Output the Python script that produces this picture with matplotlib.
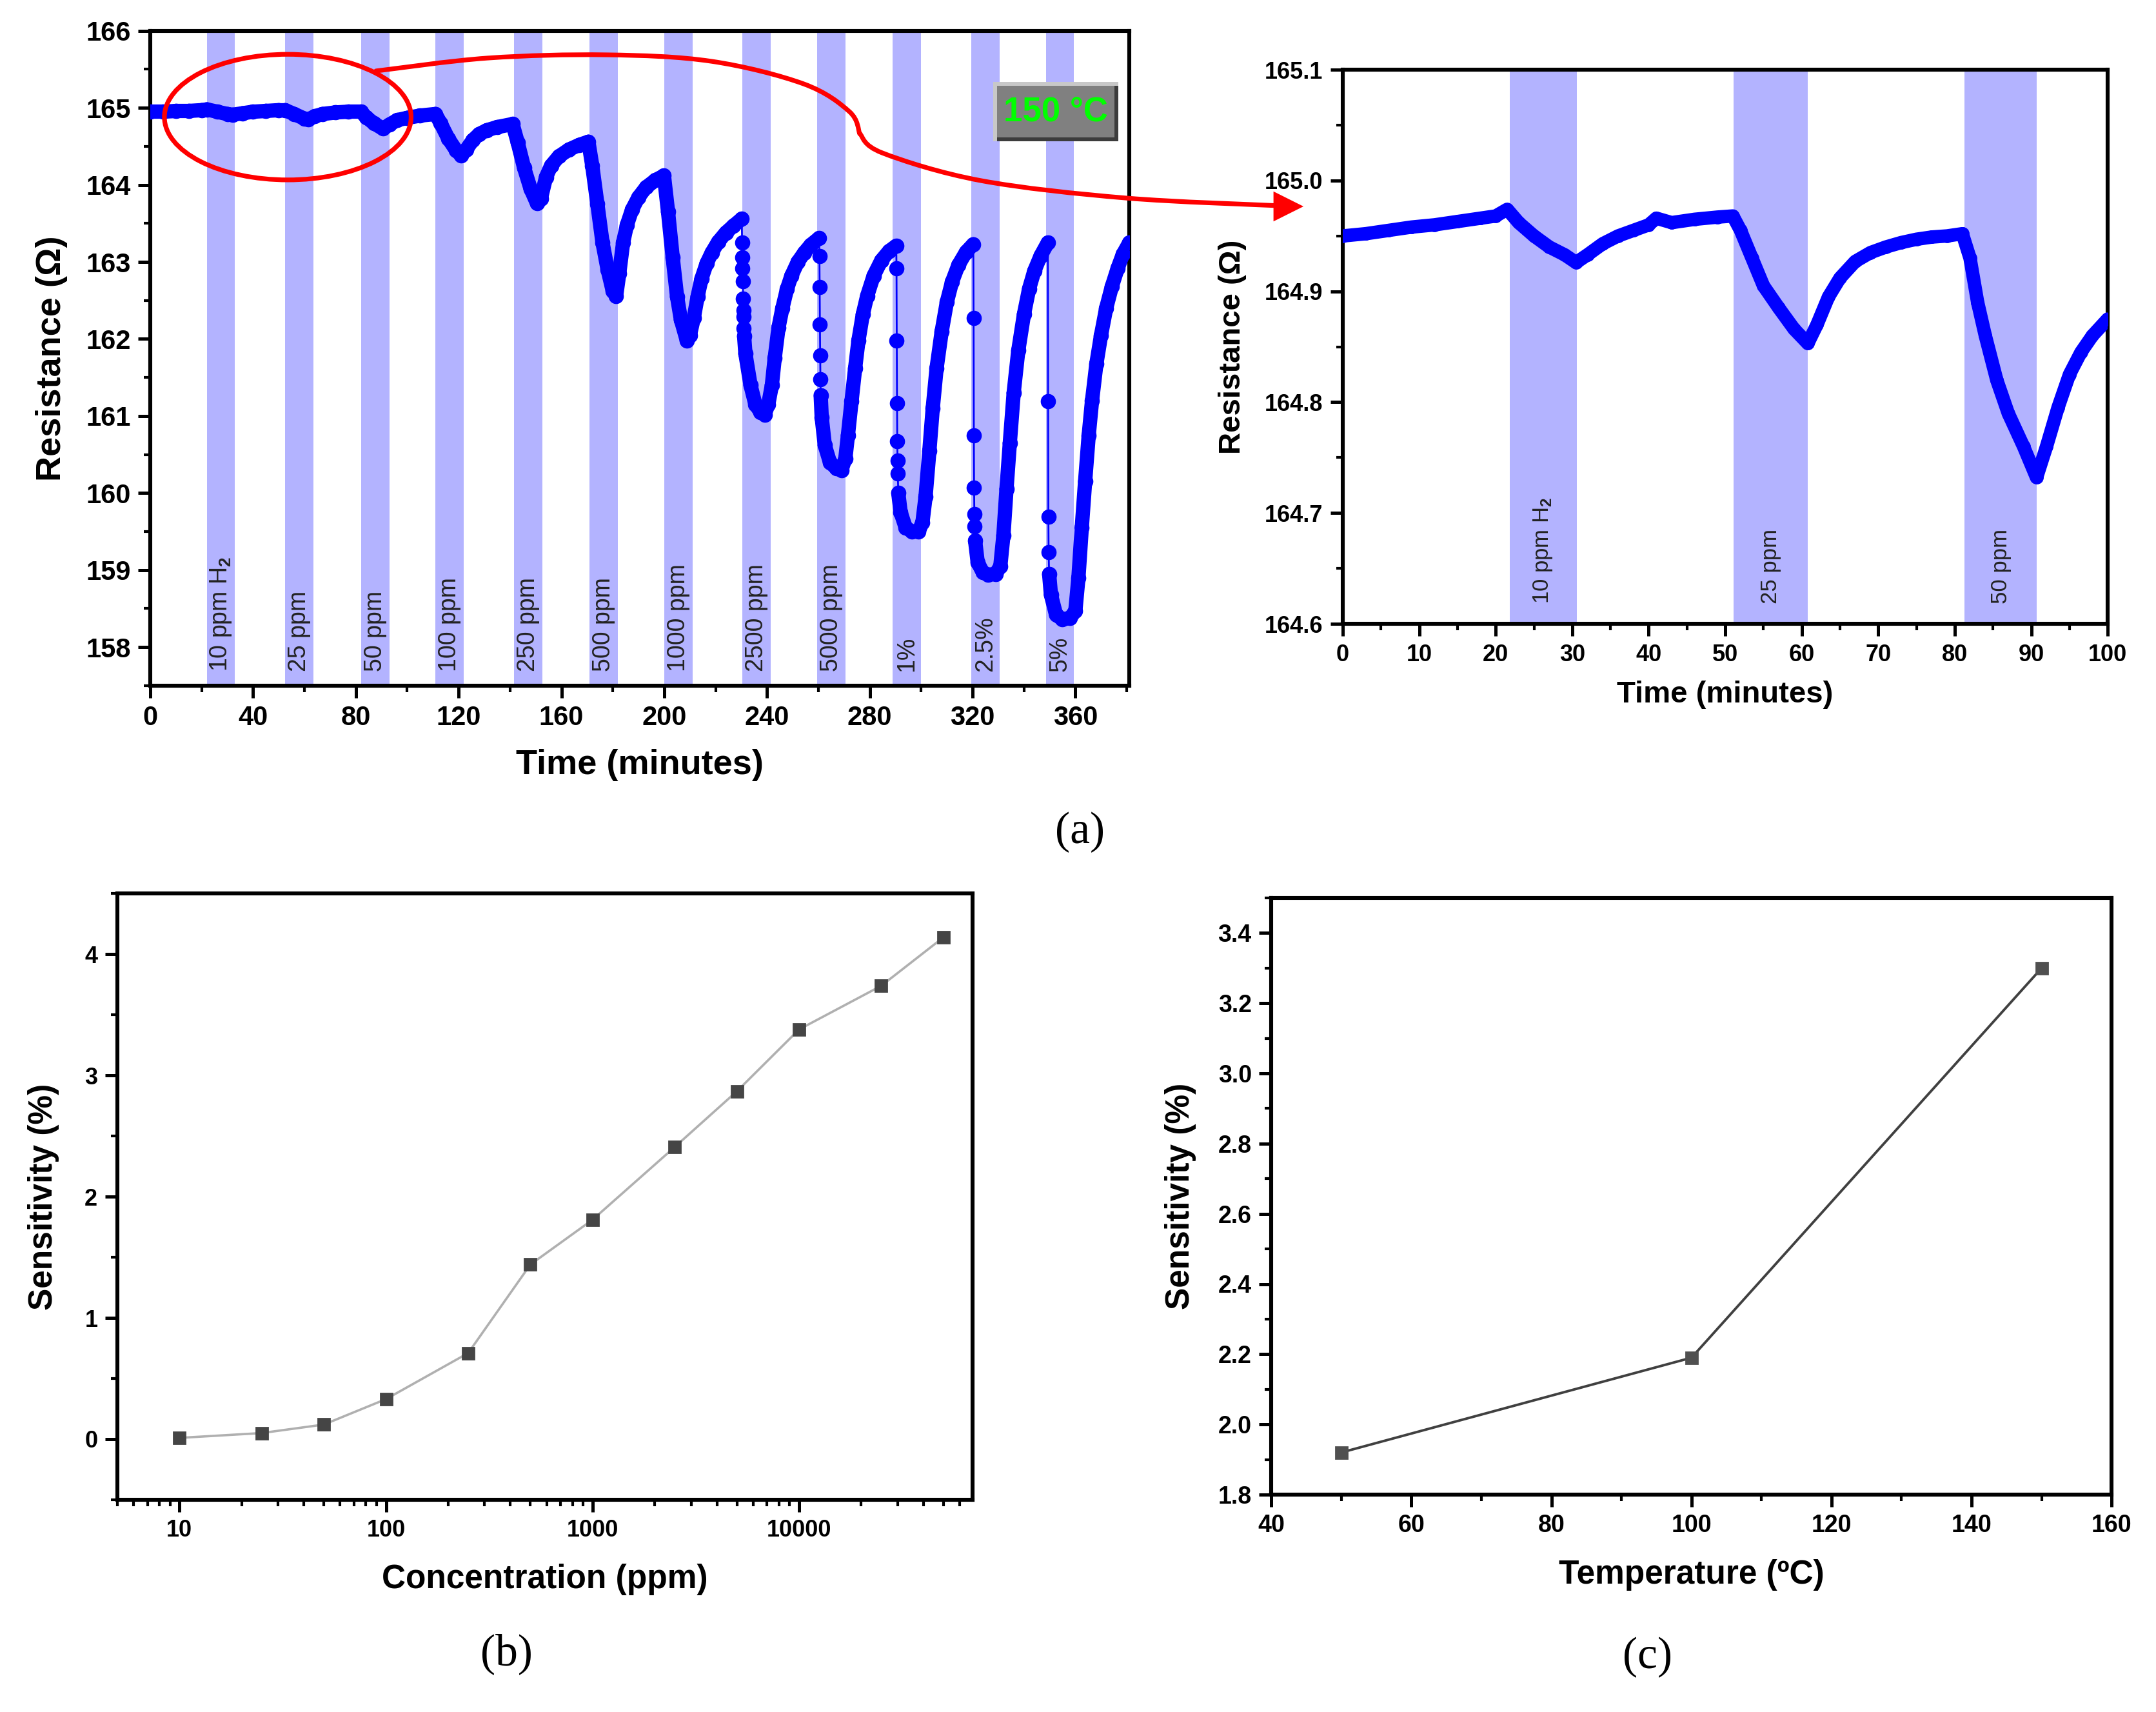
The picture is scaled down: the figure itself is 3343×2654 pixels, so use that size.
import numpy as np
import matplotlib
matplotlib.use('Agg')
import matplotlib.pyplot as plt
from matplotlib.collections import LineCollection
from matplotlib.patches import Ellipse, Rectangle, PathPatch, Polygon
from matplotlib.path import Path
from matplotlib.ticker import MultipleLocator, LogLocator, NullFormatter

plt.rcParams['font.family'] = ['Liberation Sans', 'DejaVu Sans']
plt.rcParams['font.weight'] = 'bold'
plt.rcParams['axes.labelweight'] = 'bold'
plt.rcParams['mathtext.fontset'] = 'custom'
plt.rcParams['mathtext.rm'] = 'Liberation Sans'
plt.rcParams['mathtext.it'] = 'Liberation Sans:italic'
plt.rcParams['mathtext.bf'] = 'Liberation Sans:bold'

# ---- (a) full response at 150 C ----
time_a = [0, 5, 10, 15, 20, 22, 26, 30, 32, 36, 40, 45, 50, 52.5, 56, 60, 61.5, 64, 67, 72,
          77, 82, 84, 87, 90.5, 93, 96, 100, 105, 111,
          113, 116, 119, 121, 123, 125.5, 128, 131, 135, 141,
          143, 145.5, 148, 150.5, 152, 154, 156, 159, 163, 167, 170.5,
          172, 174, 176, 178, 180, 181.3, 182.5, 184, 185.5, 187.5, 190, 193, 196.5, 199.9,
          201.5, 203.3, 205, 206.5, 208.8, 210, 211.5, 213, 214.5, 216.5, 218.5, 221, 224, 227, 230.2,
          230.3, 230.4, 230.5, 230.6, 230.7, 230.8, 230.9, 231.0, 231.1,
          231.6, 233.6, 235.5, 237.5, 239.1, 240.5, 241.9, 243.0, 244.5, 246.0, 247.8, 249.5, 252,
          254.5, 257, 260.3,
          260.4, 260.5, 260.6, 260.7, 260.8, 260.9,
          261.3, 262.5, 264.5, 267, 269, 270.5, 271.5, 272.9, 274.3, 275.6, 277.3, 279, 281.5,
          284.5, 287.5, 290.3,
          290.4, 290.5, 290.6, 290.7, 290.8, 290.9,
          291.1, 292.0, 294, 296.5, 299, 300.5, 301.7, 303.2, 304.5, 306, 308, 310, 312, 314.5,
          317.5, 320.3,
          320.4, 320.5, 320.6, 320.7, 320.8,
          321.0, 322.0, 324, 326, 329, 330.8, 332, 333.2, 334.5, 336, 337.8, 340, 342, 344,
          346.5, 349.3,
          349.4, 349.5, 349.6,
          349.8, 350.5, 352.5, 355, 358, 360, 361.2, 362.5, 363.8, 365.2, 366.5, 368.2, 370,
          372, 374.2, 376.5, 378.5, 381]
res_a = [164.95, 164.95, 164.96, 164.96, 164.97, 164.98, 164.95, 164.92, 164.91, 164.93, 164.95,
         164.96, 164.97, 164.97, 164.92, 164.86, 164.85, 164.89, 164.92, 164.94,
         164.95, 164.95, 164.88, 164.80, 164.73, 164.78, 164.84, 164.87, 164.90, 164.92,
         164.80, 164.60, 164.45, 164.38, 164.46, 164.58, 164.66, 164.71, 164.75, 164.79,
         164.55, 164.22, 163.95, 163.76, 163.82, 164.10, 164.25, 164.37, 164.46, 164.52, 164.56,
         164.25, 163.75, 163.25, 162.90, 162.62, 162.56, 162.85, 163.25, 163.48, 163.68, 163.84,
         163.97, 164.06, 164.12,
         163.65, 163.06, 162.55, 162.25, 161.98, 162.05, 162.27, 162.55, 162.78, 162.98, 163.12,
         163.26, 163.38, 163.47, 163.56,
         163.25, 163.06, 162.92, 162.75, 162.52, 162.37, 162.29, 162.14, 162.04,
         161.81, 161.40, 161.15, 161.05, 161.02, 161.15, 161.40, 161.75, 162.15, 162.40, 162.65,
         162.82, 163.00, 163.12, 163.22, 163.31,
         163.08, 162.67, 162.19, 161.79, 161.48, 161.27,
         160.98, 160.62, 160.40, 160.32, 160.30, 160.45, 160.75, 161.19, 161.62, 161.98, 162.32,
         162.56, 162.82, 163.02, 163.14, 163.21,
         162.92, 161.98, 161.17, 160.67, 160.42, 160.25,
         160.00, 159.75, 159.55, 159.50, 159.50, 159.62, 159.95, 160.55, 161.10, 161.62, 162.10,
         162.48, 162.74, 162.96, 163.13, 163.23,
         162.27, 160.75, 160.07, 159.73, 159.57,
         159.38, 159.10, 158.97, 158.94, 158.95, 159.05, 159.45, 160.05, 160.65, 161.30, 161.85,
         162.32, 162.65, 162.88, 163.08, 163.25,
         161.19, 159.69, 159.23,
         158.95, 158.68, 158.42, 158.36, 158.38, 158.47, 158.90, 159.55, 160.15, 160.75, 161.20,
         161.68, 162.05, 162.40, 162.68, 162.92, 163.10, 163.25]

gas_on = [22, 52.5, 82, 111, 141.5, 171, 200, 230.5, 259.5, 289, 319.5, 348.5]
gas_off = [33, 63.5, 93, 122, 152.5, 182, 211, 241.5, 270.5, 300, 330.5, 359.5]
gas_labels = ['10 ppm H$_2$', '25 ppm', '50 ppm', '100 ppm', '250 ppm', '500 ppm', '1000 ppm',
              '2500 ppm', '5000 ppm', '1%', '2.5%', '5%']

# ---- zoom of the first 100 minutes ----
time_z = [0, 3, 6, 9, 12, 15, 18, 20, 21.5, 23, 25, 27, 29, 30.5, 32, 34, 36, 38, 40, 41, 43,
          46, 49, 51, 52, 53.5, 55, 57, 59, 60.8, 62, 63.5, 65, 67, 69, 71, 73, 75, 77, 79, 81,
          82, 83, 84, 85.5, 87, 89, 90.7, 92, 93.5, 95, 96.5, 98, 100]
res_z = [164.950, 164.952, 164.955, 164.958, 164.960, 164.963, 164.966, 164.968, 164.974,
         164.962, 164.950, 164.940, 164.933, 164.926, 164.933, 164.943, 164.950, 164.955,
         164.960, 164.966, 164.962, 164.965, 164.967, 164.968, 164.955, 164.930, 164.905,
         164.885, 164.866, 164.853, 164.870, 164.895, 164.912, 164.927, 164.935, 164.940,
         164.944, 164.947, 164.949, 164.950, 164.952, 164.930, 164.890, 164.860, 164.820,
         164.790, 164.760, 164.732, 164.760, 164.795, 164.825, 164.845, 164.860, 164.875]
zoom_on = [21.8, 51.1, 81.3]
zoom_off = [30.6, 60.8, 90.7]
zoom_labels = ['10 ppm H$_2$', '25 ppm', '50 ppm']

# ---- (b) sensitivity vs concentration ----
conc = [10, 25, 50, 100, 250, 500, 1000, 2500, 5000, 10000, 25000, 50000]
sens_conc = [0.01, 0.05, 0.12, 0.33, 0.71, 1.44, 1.81, 2.41, 2.87, 3.38, 3.74, 4.14]

# ---- (c) sensitivity vs temperature ----
temp = [50, 100, 150]
sens_temp = [1.92, 2.19, 3.30]

W, H = 3343, 2654
fig = plt.figure(figsize=(W / 200, H / 200), dpi=200)

BAND = '#b3b3ff'
BLUE = '#0000ff'


def style(ax, fs):
    for s in ax.spines.values():
        s.set_linewidth(2.2)
    ax.tick_params(which='major', direction='out', length=7, width=1.8, labelsize=fs, pad=4)
    ax.tick_params(which='minor', direction='out', length=3.5, width=1.5)


# panel (a)
ax1 = fig.add_axes([0.0697, 0.5995, 0.4541, 0.3825])
for a, b in zip(gas_on, gas_off):
    ax1.axvspan(a, b, color=BAND, lw=0, zorder=0)
for a, b, lab in zip(gas_on, gas_off, gas_labels):
    ax1.text((a + b) / 2, 157.68, lab, rotation=90, ha='center', va='bottom',
             fontsize=13.5, fontweight='normal', color='#222222', zorder=1)

t = np.array(time_a)
r = np.array(res_a)
pts = np.column_stack([t, r])
segs = np.stack([pts[:-1], pts[1:]], axis=1)
slope = np.diff(r) / np.diff(t)
widths = np.where(slope < -0.8, 1.0, 8.0)
lc = LineCollection(segs, linewidths=widths, colors=BLUE, capstyle='round',
                    joinstyle='round', zorder=3)
ax1.add_collection(lc)
ax1.plot(t, r, 'o', ms=7.5, color=BLUE, zorder=3)

ax1.set_xlim(0, 381)
ax1.set_ylim(157.5, 166)
ax1.xaxis.set_major_locator(MultipleLocator(40))
ax1.xaxis.set_minor_locator(MultipleLocator(20))
ax1.yaxis.set_major_locator(MultipleLocator(1))
ax1.yaxis.set_minor_locator(MultipleLocator(0.5))
style(ax1, 15)
ax1.set_xlabel('Time (minutes)', fontsize=19.5, labelpad=10)
ax1.set_ylabel('Resistance (Ω)', fontsize=19.5, labelpad=10)

ax1.add_patch(Ellipse((53.5, 164.88), 96, 1.63, fill=False, ec='red', lw=2.6,
                      zorder=5, clip_on=False))

# 150 C badge
bx0, by0, bx1, by1 = 0.861, 0.831, 0.989, 0.922
dx, dy = 0.004, 0.006
ax1.add_patch(Rectangle((bx0, by0), bx1 - bx0, by1 - by0, transform=ax1.transAxes,
                        fc='#c8c8c8', ec='none', zorder=6))
ax1.add_patch(Rectangle((bx0 + dx, by0), bx1 - bx0 - dx, by1 - by0 - dy,
                        transform=ax1.transAxes, fc='#3c3c3c', ec='none', zorder=6))
ax1.add_patch(Rectangle((bx0 + dx, by0 + dy), bx1 - bx0 - 2 * dx, by1 - by0 - 2 * dy,
                        transform=ax1.transAxes, fc='#808080', ec='none', zorder=6))
ax1.text((bx0 + bx1) / 2, (by0 + by1) / 2, '150 °C', transform=ax1.transAxes,
         ha='center', va='center', color='#00ff00', fontsize=19, zorder=7)

# zoom panel
ax2 = fig.add_axes([0.6228, 0.6356, 0.3548, 0.3237])
for a, b in zip(zoom_on, zoom_off):
    ax2.axvspan(a, b, color=BAND, lw=0, zorder=0)
for a, b, lab in zip(zoom_on, zoom_off, zoom_labels):
    ax2.text((a + b) / 2, 164.618, lab, rotation=90, ha='center', va='bottom',
             fontsize=12.5, fontweight='normal', color='#222222', zorder=1)
ax2.plot(time_z, res_z, '-o', color=BLUE, lw=7.5, ms=6.5, solid_capstyle='round',
         solid_joinstyle='round', zorder=3)
ax2.set_xlim(0, 100)
ax2.set_ylim(164.6, 165.1)
ax2.xaxis.set_major_locator(MultipleLocator(10))
ax2.xaxis.set_minor_locator(MultipleLocator(5))
ax2.yaxis.set_major_locator(MultipleLocator(0.1))
ax2.yaxis.set_minor_locator(MultipleLocator(0.05))
ax2.yaxis.set_major_formatter(matplotlib.ticker.FormatStrFormatter('%.1f'))
style(ax2, 13)
ax2.set_xlabel('Time (minutes)', fontsize=17, labelpad=8)
ax2.set_ylabel('Resistance (Ω)', fontsize=17, labelpad=10)

# panel (b)
ax3 = fig.add_axes([0.0544, 0.124, 0.3966, 0.354])
ax3.plot(conc, sens_conc, '-s', color='#b0b0b0', lw=1.3, ms=6.5, mfc='#454545', mec='#454545')
ax3.set_xscale('log')
ax3.set_xlim(5, 69000)
ax3.set_ylim(-0.5, 4.5)
ax3.set_xticks([10, 100, 1000, 10000], ['10', '100', '1000', '10000'])
ax3.xaxis.set_minor_locator(LogLocator(base=10, subs=np.arange(2, 10)))
ax3.xaxis.set_minor_formatter(NullFormatter())
ax3.yaxis.set_major_locator(MultipleLocator(1))
ax3.yaxis.set_minor_locator(MultipleLocator(0.5))
style(ax3, 13)
ax3.set_xlabel('Concentration (ppm)', fontsize=18.5, labelpad=12)
ax3.set_ylabel('Sensitivity (%)', fontsize=18.5, labelpad=14)

# panel (c)
ax4 = fig.add_axes([0.5897, 0.127, 0.3897, 0.3485])
ax4.plot(temp, sens_temp, '-s', color='#404040', lw=1.4, ms=6.5, mfc='#505050', mec='#505050')
ax4.set_xlim(40, 160)
ax4.set_ylim(1.8, 3.5)
ax4.xaxis.set_major_locator(MultipleLocator(20))
ax4.xaxis.set_minor_locator(MultipleLocator(10))
ax4.yaxis.set_minor_locator(MultipleLocator(0.1))
ax4.set_yticks(np.arange(1.8, 3.41, 0.2))
ax4.yaxis.set_major_formatter(matplotlib.ticker.FormatStrFormatter('%.1f'))
style(ax4, 13.5)
ax4.set_xlabel('Temperature (ºC)', fontsize=18.5, labelpad=12)
ax4.set_ylabel('Sensitivity (%)', fontsize=18.5, labelpad=12)

# panel letters
for x, y, s in [(0.501, 0.514, '(a)'), (0.235, 0.034, '(b)'), (0.764, 0.032, '(c)')]:
    fig.text(x, y, s, ha='center', va='center', fontsize=25, fontweight='normal',
             family=['Liberation Serif', 'DejaVu Serif'])


# red connector from the ellipse to the zoom panel (figure pixels)
def smooth(points):
    p = np.asarray(points, float)
    ext = np.vstack([p[0], p, p[-1]])
    verts, codes = [p[0]], [Path.MOVETO]
    for i in range(1, len(ext) - 2):
        p0, p1, p2, p3 = ext[i - 1], ext[i], ext[i + 1], ext[i + 2]
        verts += [p1 + (p2 - p0) / 6, p2 - (p3 - p1) / 6, p2]
        codes += [Path.CURVE4] * 3
    return verts, codes


part1 = [(583, 110), (756, 90), (940, 85), (1103, 95), (1246, 130), (1317, 173), (1333, 207)]
part2 = [(1333, 207), (1368, 237), (1521, 280), (1746, 307), (1985, 319)]
v1, c1 = smooth(part1)
v2, c2 = smooth(part2)
verts = np.array(v1 + v2)
verts[:, 0] /= W
verts[:, 1] = 1 - verts[:, 1] / H
fig.add_artist(PathPatch(Path(verts, c1 + c2), transform=fig.transFigure, fill=False,
                         ec='red', lw=2.6, capstyle='round'))
head = np.array([(2018, 320), (1976, 299), (1976, 341)], float)
head[:, 0] /= W
head[:, 1] = 1 - head[:, 1] / H
fig.add_artist(Polygon(head, closed=True, transform=fig.transFigure, fc='red', ec='red', lw=1))

fig.savefig('out.png', dpi=200)
